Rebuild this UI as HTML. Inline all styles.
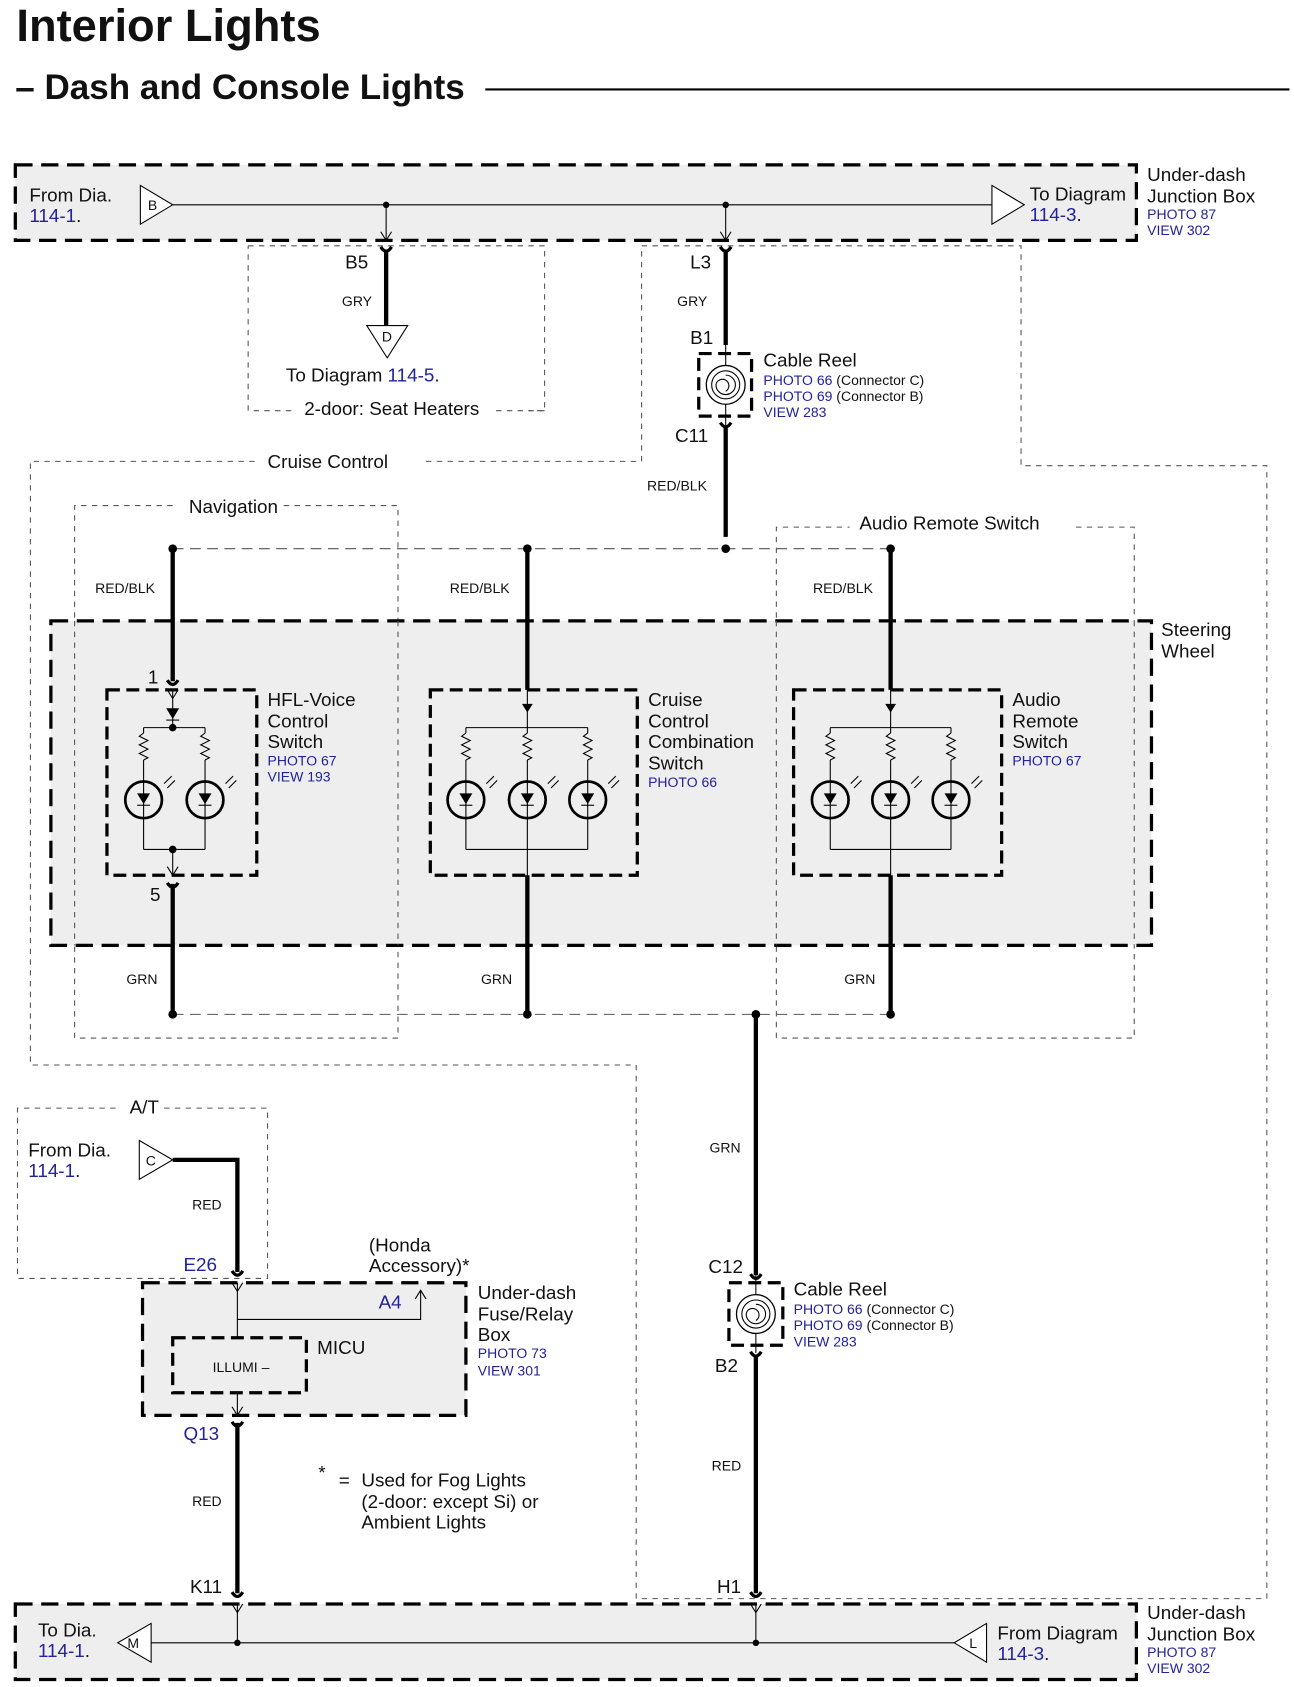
<!DOCTYPE html>
<html><head><meta charset="utf-8"><style>
html,body{margin:0;padding:0;background:#fff}
svg{display:block}
text{font-family:"Liberation Sans",Arial,sans-serif;fill:#111}
.b{fill:#22229a}
.s{font-size:13px}
.m{font-size:17.5px}
.w{font-size:13px}
</style></head><body>
<svg width="1294" height="1687" viewBox="0 0 1200 1565" xmlns="http://www.w3.org/2000/svg">
<defs>
<g id="cup"><path d="M-5,-5 Q0,3 5,-5" fill="none" stroke="#000" stroke-width="3"/></g>
<g id="arr"><path d="M-5,-8 L0,0 L5,-8" fill="none" stroke="#000" stroke-width="1"/></g>
<g id="lamp">
<line x1="0" y1="0" x2="0" y2="5" stroke="#000" stroke-width="1"/>
<path d="M0,5 l-4,3 l8,4 l-8,4 l8,4 l-8,4 l8,4 l-4,2" fill="none" stroke="#000" stroke-width="1"/>
<line x1="0" y1="30" x2="0" y2="113" stroke="#000" stroke-width="1"/>
<circle cx="0" cy="67" r="17" fill="none" stroke="#000" stroke-width="2.5"/>
<path d="M-6,61 L6,61 L0,71 Z" fill="#000"/>
<line x1="-6" y1="72" x2="6" y2="72" stroke="#000" stroke-width="1"/>
<path d="M19,52 l6,-6 M22,56 l6,-6 M25,46 l1,-1 M28,50 l1,-1" stroke="#000" stroke-width="1"/>
</g>
<g id="reel">
<circle cx="0" cy="0" r="18" fill="none" stroke="#000" stroke-width="1.2"/>
<circle cx="0" cy="0" r="13" fill="none" stroke="#000" stroke-width="1"/>
<path d="M0,-9 A9,9 0 1,1 -9,0 A6,6 0 1,1 0,6" fill="none" stroke="#000" stroke-width="1"/>
</g>
</defs>

<!-- Title -->
<text x="15" y="38" style="font-size:42px;font-weight:bold">Interior Lights</text>
<text x="14" y="92" style="font-size:32.5px;font-weight:bold">– Dash and Console Lights</text>
<line x1="450" y1="83" x2="1196" y2="83" stroke="#000" stroke-width="2"/>

<!-- Top junction box -->
<rect x="14" y="153" width="1040" height="70" fill="#eee" stroke="#000" stroke-width="3" stroke-dasharray="16,8"/>
<line x1="160" y1="190" x2="920" y2="190" stroke="#000" stroke-width="1"/>
<path d="M130,172 L130,208 L160,190 Z" fill="#fff" stroke="#000"/><text x="137" y="195" class="s">B</text>
<path d="M920,172 L920,208 L950,190 Z" fill="#fff" stroke="#000"/>
<text x="27" y="187" class="m">From Dia.</text><text x="27" y="206" class="m b">114-1<tspan style="fill:#111">.</tspan></text>
<text x="955" y="186" class="m">To Diagram</text><text x="955" y="205" class="m b">114-3<tspan style="fill:#111">.</tspan></text>
<text x="1064" y="168" class="m">Under-dash</text><text x="1064" y="188" class="m">Junction Box</text>
<text x="1064" y="203" class="s b">PHOTO 87</text><text x="1064" y="218" class="s b">VIEW 302</text>
<circle cx="358" cy="190" r="3"/><circle cx="673" cy="190" r="3"/>
<line x1="358" y1="190" x2="358" y2="223" stroke="#000"/><use href="#arr" x="358" y="223"/>
<line x1="673" y1="190" x2="673" y2="223" stroke="#000"/><use href="#arr" x="673" y="223"/>

<!-- Seat heaters -->
<path d="M230,228 L505,228 L505,381 L490,381 M270,381 L230,381 L230,228" fill="none" stroke="#555" stroke-dasharray="5,5"/>
<line x1="460" y1="381" x2="505" y2="381" stroke="#555" stroke-dasharray="5,5"/>
<text x="282" y="385" class="m">2-door: Seat Heaters</text>
<use href="#cup" x="358" y="234"/><line x1="358" y1="232" x2="358" y2="302" stroke="#000" stroke-width="4"/>
<path d="M340,302 L378,302 L359,332 Z" fill="#fff" stroke="#000"/><text x="354" y="317" class="s">D</text>
<text x="320" y="249" class="m">B5</text><text x="317" y="284" class="w">GRY</text>
<text x="265" y="354" class="m">To Diagram <tspan class="b">114-5</tspan>.</text>

<!-- Cruise control region -->
<path d="M395,428 L595,428 L595,228 L947,228 L947,432 L1175,432 L1175,1483 L590,1483 L590,988 L28,988 L28,428 L240,428" fill="none" stroke="#555" stroke-dasharray="5,5"/>
<text x="248" y="434" class="m">Cruise Control</text>

<!-- Cable reel top -->
<use href="#cup" x="673" y="234"/><line x1="673" y1="232" x2="673" y2="320" stroke="#000" stroke-width="4"/>
<text x="640" y="249" class="m">L3</text><text x="628" y="284" class="w">GRY</text><text x="640" y="319" class="m">B1</text>
<rect x="648" y="328" width="49" height="58" fill="none" stroke="#000" stroke-width="3" stroke-dasharray="12,6"/>
<use href="#reel" x="673" y="357"/>
<line x1="673" y1="320" x2="673" y2="339" stroke="#000"/><line x1="673" y1="375" x2="673" y2="395" stroke="#000"/>
<use href="#cup" x="673" y="397"/><line x1="673" y1="397" x2="673" y2="498" stroke="#000" stroke-width="4"/>
<text x="626" y="410" class="m">C11</text><text x="600" y="455" class="w">RED/BLK</text>
<text x="708" y="340" class="m">Cable Reel</text>
<text x="708" y="357" class="s"><tspan class="b">PHOTO 66</tspan> (Connector C)</text>
<text x="708" y="372" class="s"><tspan class="b">PHOTO 69</tspan> (Connector B)</text>
<text x="708" y="387" class="s b">VIEW 283</text>

<!-- Navigation & Audio dashed boxes -->
<path d="M263,469 L369,469 L369,963 L69,963 L69,469 L160,469" fill="none" stroke="#555" stroke-dasharray="5,5"/>
<text x="175" y="476" class="m">Navigation</text>
<path d="M998,489 L1052,489 L1052,963 L720,963 L720,489 L788,489" fill="none" stroke="#555" stroke-dasharray="5,5"/>
<text x="797" y="491" class="m">Audio Remote Switch</text>

<!-- Steering wheel -->
<rect x="47" y="576" width="1021" height="301" fill="#eee" stroke="#000" stroke-width="3" stroke-dasharray="16,8"/>
<line x1="69" y1="576" x2="69" y2="877" stroke="#555" stroke-dasharray="5,5"/>
<line x1="369" y1="576" x2="369" y2="877" stroke="#555" stroke-dasharray="5,5"/>
<line x1="720" y1="576" x2="720" y2="877" stroke="#555" stroke-dasharray="5,5"/>
<line x1="1052" y1="576" x2="1052" y2="877" stroke="#555" stroke-dasharray="5,5"/>
<text x="1077" y="590" class="m">Steering</text><text x="1077" y="610" class="m">Wheel</text>

<!-- buses -->
<line x1="160" y1="509" x2="826" y2="509" stroke="#555" stroke-dasharray="10,6"/>
<circle cx="160" cy="509" r="4"/><circle cx="489" cy="509" r="4"/><circle cx="673" cy="509" r="4"/><circle cx="826" cy="509" r="4"/>
<line x1="160" y1="941" x2="826" y2="941" stroke="#555" stroke-dasharray="10,6"/>
<circle cx="160" cy="941" r="4"/><circle cx="489" cy="941" r="4"/><circle cx="701" cy="941" r="4"/><circle cx="826" cy="941" r="4"/>
<text x="88" y="550" class="w">RED/BLK</text><text x="417" y="550" class="w">RED/BLK</text><text x="754" y="550" class="w">RED/BLK</text>
<text x="117" y="913" class="w">GRN</text><text x="446" y="913" class="w">GRN</text><text x="783" y="913" class="w">GRN</text>

<!-- HFL -->
<line x1="160" y1="509" x2="160" y2="632" stroke="#000" stroke-width="4"/><use href="#cup" x="160" y="636"/>
<text x="137" y="634" class="m">1</text>
<rect x="99" y="640" width="139" height="172" fill="none" stroke="#000" stroke-width="3" stroke-dasharray="12,6"/>
<line x1="160" y1="640" x2="160" y2="675" stroke="#000"/><use href="#arr" x="160" y="648"/>
<path d="M154,657 L166,657 L160,667 Z"/><line x1="154" y1="668" x2="166" y2="668" stroke="#000"/>
<circle cx="160" cy="675" r="3.5"/><line x1="133" y1="675" x2="190" y2="675" stroke="#000"/>
<use href="#lamp" x="133" y="675"/><use href="#lamp" x="190" y="675"/>
<line x1="133" y1="788" x2="190" y2="788" stroke="#000"/><circle cx="160" cy="788" r="3.5"/>
<line x1="160" y1="788" x2="160" y2="812" stroke="#000"/><use href="#arr" x="160" y="812"/>
<use href="#cup" x="160" y="824"/><line x1="160" y1="820" x2="160" y2="941" stroke="#000" stroke-width="4"/>
<text x="139" y="836" class="m">5</text>
<text x="248" y="655" class="m">HFL-Voice</text><text x="248" y="675" class="m">Control</text><text x="248" y="694" class="m">Switch</text>
<text x="248" y="710" class="s b">PHOTO 67</text><text x="248" y="725" class="s b">VIEW 193</text>

<!-- Cruise -->
<line x1="489" y1="509" x2="489" y2="640" stroke="#000" stroke-width="4"/>
<rect x="399" y="640" width="192" height="172" fill="none" stroke="#000" stroke-width="3" stroke-dasharray="12,6"/>
<line x1="489" y1="640" x2="489" y2="675" stroke="#000"/>
<path d="M484,653 L494,653 L489,661 Z"/>
<line x1="432" y1="675" x2="545" y2="675" stroke="#000"/>
<use href="#lamp" x="432" y="675"/><use href="#lamp" x="489" y="675"/><use href="#lamp" x="545" y="675"/>
<line x1="432" y1="788" x2="545" y2="788" stroke="#000"/>
<line x1="489" y1="788" x2="489" y2="812" stroke="#000"/>
<line x1="489" y1="812" x2="489" y2="941" stroke="#000" stroke-width="4"/>
<text x="601" y="655" class="m">Cruise</text><text x="601" y="675" class="m">Control</text><text x="601" y="694" class="m">Combination</text><text x="601" y="714" class="m">Switch</text>
<text x="601" y="730" class="s b">PHOTO 66</text>

<!-- Audio -->
<line x1="826" y1="509" x2="826" y2="640" stroke="#000" stroke-width="4"/>
<rect x="736" y="640" width="193" height="172" fill="none" stroke="#000" stroke-width="3" stroke-dasharray="12,6"/>
<line x1="826" y1="640" x2="826" y2="675" stroke="#000"/>
<path d="M821,653 L831,653 L826,661 Z"/>
<line x1="770" y1="675" x2="882" y2="675" stroke="#000"/>
<use href="#lamp" x="770" y="675"/><use href="#lamp" x="826" y="675"/><use href="#lamp" x="882" y="675"/>
<line x1="770" y1="788" x2="882" y2="788" stroke="#000"/>
<line x1="826" y1="788" x2="826" y2="812" stroke="#000"/>
<line x1="826" y1="812" x2="826" y2="941" stroke="#000" stroke-width="4"/>
<text x="939" y="655" class="m">Audio</text><text x="939" y="675" class="m">Remote</text><text x="939" y="694" class="m">Switch</text>
<text x="939" y="710" class="s b">PHOTO 67</text>

<!-- right lower wire -->
<line x1="701" y1="941" x2="701" y2="1183" stroke="#000" stroke-width="4"/><use href="#cup" x="701" y="1187"/>
<text x="658" y="1069" class="w">GRN</text><text x="657" y="1181" class="m">C12</text>
<rect x="676" y="1190" width="50" height="58" fill="none" stroke="#000" stroke-width="3" stroke-dasharray="12,6"/>
<use href="#reel" x="701" y="1219"/>
<line x1="701" y1="1183" x2="701" y2="1201" stroke="#000"/><line x1="701" y1="1237" x2="701" y2="1255" stroke="#000"/>
<use href="#cup" x="701" y="1259"/><line x1="701" y1="1258" x2="701" y2="1478" stroke="#000" stroke-width="4"/>
<text x="663" y="1273" class="m">B2</text><text x="660" y="1364" class="w">RED</text><text x="665" y="1478" class="m">H1</text>
<use href="#cup" x="701" y="1482"/>
<text x="736" y="1202" class="m">Cable Reel</text>
<text x="736" y="1219" class="s"><tspan class="b">PHOTO 66</tspan> (Connector C)</text>
<text x="736" y="1234" class="s"><tspan class="b">PHOTO 69</tspan> (Connector B)</text>
<text x="736" y="1249" class="s b">VIEW 283</text>

<!-- A/T -->
<path d="M152,1028 L248,1028 L248,1186 L16,1186 L16,1028 L110,1028" fill="none" stroke="#555" stroke-dasharray="5,5"/>
<text x="120" y="1033" class="m">A/T</text>
<text x="26" y="1073" class="m">From Dia.</text><text x="26" y="1092" class="m b">114-1<tspan style="fill:#111">.</tspan></text>
<path d="M129,1058 L129,1094 L160,1076 Z" fill="#fff" stroke="#000"/><text x="135" y="1081" class="s">C</text>
<path d="M160,1076 L220,1076 L220,1180" fill="none" stroke="#000" stroke-width="4"/>
<use href="#cup" x="220" y="1184"/>
<text x="178" y="1122" class="w">RED</text><text x="170" y="1179" class="m b">E26</text>

<!-- Fuse box -->
<rect x="132" y="1190" width="300" height="123" fill="#eee" stroke="#000" stroke-width="3" stroke-dasharray="16,8"/>
<line x1="220" y1="1190" x2="220" y2="1241" stroke="#000"/><use href="#arr" x="220" y="1198"/>
<path d="M220,1224 L390,1224 L390,1197" fill="none" stroke="#000"/>
<path d="M385,1205 L390,1197 L395,1205" fill="none" stroke="#000"/>
<text x="351" y="1214" class="m b">A4</text>
<text x="342" y="1161" class="m">(Honda</text><text x="342" y="1180" class="m">Accessory)*</text>
<rect x="160" y="1241" width="124" height="51" fill="none" stroke="#000" stroke-width="3" stroke-dasharray="12,6"/>
<text x="197" y="1273" class="s">ILLUMI –</text>
<text x="294" y="1256" class="m">MICU</text>
<line x1="220" y1="1292" x2="220" y2="1313" stroke="#000"/><use href="#arr" x="220" y="1313"/>
<text x="443" y="1205" class="m">Under-dash</text><text x="443" y="1225" class="m">Fuse/Relay</text><text x="443" y="1244" class="m">Box</text>
<text x="443" y="1260" class="s b">PHOTO 73</text><text x="443" y="1276" class="s b">VIEW 301</text>
<use href="#cup" x="220" y="1324"/><line x1="220" y1="1320" x2="220" y2="1478" stroke="#000" stroke-width="4"/>
<use href="#cup" x="220" y="1482"/>
<text x="170" y="1336" class="m b">Q13</text><text x="178" y="1397" class="w">RED</text><text x="176" y="1478" class="m">K11</text>
<text x="295" y="1372" class="m">*</text>
<text x="314" y="1379" class="m">=</text>
<text x="335" y="1379" class="m">Used for Fog Lights</text>
<text x="335" y="1399" class="m">(2-door: except Si) or</text>
<text x="335" y="1418" class="m">Ambient Lights</text>

<!-- Bottom junction box -->
<rect x="14" y="1488" width="1040" height="70" fill="#eee" stroke="#000" stroke-width="3" stroke-dasharray="16,8"/>
<line x1="140" y1="1524" x2="885" y2="1524" stroke="#000"/>
<path d="M140,1506 L140,1542 L109,1524 Z" fill="#fff" stroke="#000"/><text x="118" y="1529" class="s">M</text>
<path d="M915,1506 L915,1542 L885,1524 Z" fill="#fff" stroke="#000"/><text x="899" y="1529" class="s">L</text>
<circle cx="220" cy="1524" r="3"/><circle cx="701" cy="1524" r="3"/>
<line x1="220" y1="1488" x2="220" y2="1524" stroke="#000"/><use href="#arr" x="220" y="1496"/>
<line x1="701" y1="1488" x2="701" y2="1524" stroke="#000"/><use href="#arr" x="701" y="1496"/>
<text x="35" y="1518" class="m">To Dia.</text><text x="35" y="1537" class="m b">114-1<tspan style="fill:#111">.</tspan></text>
<text x="925" y="1521" class="m">From Diagram</text><text x="925" y="1540" class="m b">114-3<tspan style="fill:#111">.</tspan></text>
<text x="1064" y="1502" class="m">Under-dash</text><text x="1064" y="1522" class="m">Junction Box</text>
<text x="1064" y="1537" class="s b">PHOTO 87</text><text x="1064" y="1552" class="s b">VIEW 302</text>
</svg>
</body></html>
